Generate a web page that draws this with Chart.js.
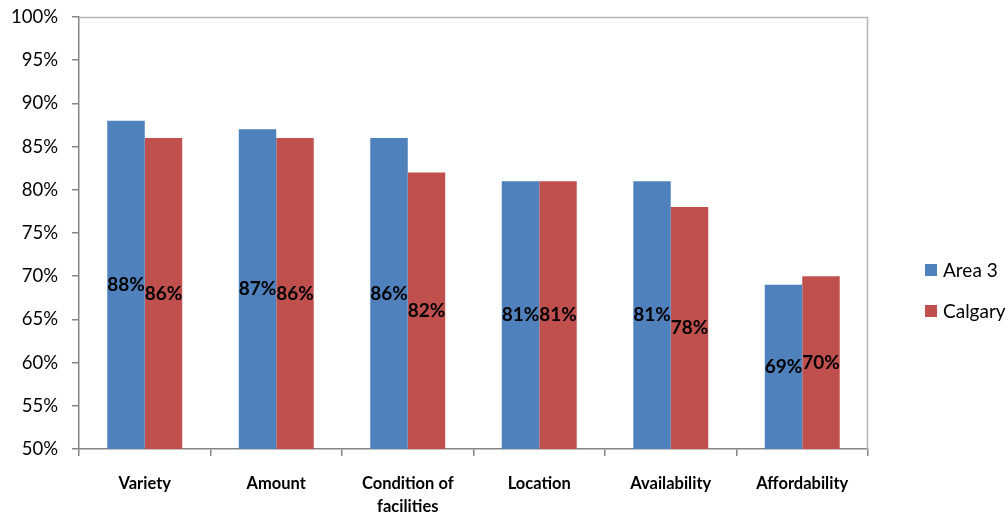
<!DOCTYPE html>
<html>
<head>
<meta charset="utf-8">
<script src="https://cdn.jsdelivr.net/npm/chart.js@4/dist/chart.umd.min.js"></script>
<style>
  html, body { margin: 0; padding: 0; background: #fff; }
  #wrap { position: relative; width: 1008px; height: 512px; }
  #legend { position: absolute; left: 925px; top: 258px; font-family: Lato, "Open Sans", sans-serif; font-size: 19px; color: #000; }
  #legend div { height: 41px; display: flex; align-items: flex-start; }
  #legend span.box { display: inline-block; width: 12px; height: 12px; margin: 6px 6px 0 0; }
</style>
</head>
<body>
<div id="wrap">
  <canvas id="chart" width="1008" height="512"></canvas>
  <div id="legend"></div>
</div>
<script>
// Satisfaction comparison, Area 3 vs Calgary
const categories = ['Variety', 'Amount', ['Condition of', 'facilities'], 'Location', 'Availability', 'Affordability'];
const area3 = [88, 87, 86, 81, 81, 69];
const calgary = [86, 86, 82, 81, 78, 70];
const seriesNames = ['Area 3', 'Calgary'];
const seriesColors = ['#4F81BD', '#C0504D'];

const FONT = 'Lato, "Open Sans", sans-serif';

// labels drawn in the middle of each bar, like the spreadsheet's "center" option
const centerLabels = {
    id: 'centerLabels',
    afterDatasetsDraw(chart) {
        const ctx = chart.ctx;
        const bottom = chart.chartArea.bottom;
        ctx.save();
        ctx.font = 'bold 19px ' + FONT;
        ctx.fillStyle = '#000';
        ctx.textAlign = 'center';
        ctx.textBaseline = 'middle';
        chart.data.datasets.forEach((ds, i) => {
            chart.getDatasetMeta(i).data.forEach((bar, j) => {
                const base = Math.min(bar.base, bottom);
                ctx.fillText(ds.data[j] + '%', bar.x, (bar.y + base) / 2);
            });
        });
        ctx.restore();
    }
};

// light frame on the top and right of the plot area
const plotFrame = {
    id: 'plotFrame',
    beforeDatasetsDraw(chart) {
        const a = chart.chartArea;
        const ctx = chart.ctx;
        ctx.save();
        ctx.strokeStyle = '#b4b4b4';
        ctx.lineWidth = 1.5;
        ctx.beginPath();
        ctx.moveTo(a.left, a.top + 0.5);
        ctx.lineTo(a.right - 0.5, a.top + 0.5);
        ctx.lineTo(a.right - 0.5, a.bottom);
        ctx.stroke();
        ctx.restore();
    }
};

const chart = new Chart(document.getElementById('chart').getContext('2d'), {
    type: 'bar',
    data: {
        labels: categories,
        datasets: [
            { label: seriesNames[0], data: area3, backgroundColor: seriesColors[0] },
            { label: seriesNames[1], data: calgary, backgroundColor: seriesColors[1] }
        ]
    },
    options: {
        responsive: false,
        animation: false,
        datasets: { bar: { categoryPercentage: 0.57, barPercentage: 1.0 } },
        layout: { padding: { left: 0, right: 140, top: 17, bottom: 0 } },
        plugins: {
            legend: { display: false },
            tooltip: { enabled: false }
        },
        scales: {
            x: {
                afterFit(scale) { scale.height = 63; scale.paddingLeft = 0; scale.paddingRight = 0; },
                border: { color: '#868686', width: 1.5 },
                grid: { offset: true, drawOnChartArea: false, tickLength: 7, color: '#868686', lineWidth: 1.5 },
                ticks: { font: { family: FONT, size: 16.5, weight: 'bold', lineHeight: 1.35 }, color: '#000', padding: 17, maxRotation: 0 }
            },
            y: {
                min: 50,
                max: 100,
                afterFit(scale) { scale.width = 79; scale.paddingTop = 0; scale.paddingBottom = 0; },
                border: { color: '#868686', width: 1.5 },
                grid: { drawOnChartArea: false, tickLength: 7, color: '#868686', lineWidth: 1.5 },
                ticks: { stepSize: 5, font: { family: FONT, size: 18.5 }, color: '#000', padding: 14, callback: v => v + '%' }
            }
        }
    },
    plugins: [plotFrame, centerLabels]
});

document.getElementById('legend').innerHTML = seriesNames.map((n, i) =>
    `<div><span class="box" style="background:${seriesColors[i]}"></span>${n}</div>`).join('');
</script>
</body>
</html>
